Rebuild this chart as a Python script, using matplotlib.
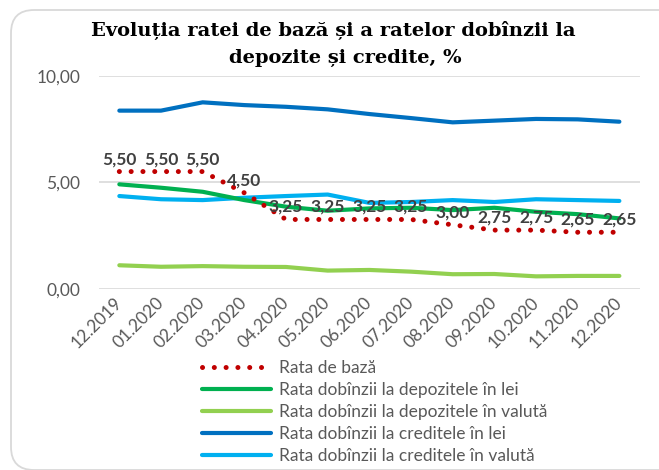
import matplotlib
matplotlib.use("Agg")
import matplotlib.pyplot as plt
import matplotlib.transforms as mtransforms
from matplotlib.patches import FancyBboxPatch
import numpy as np

categories = ["12.2019", "01.2020", "02.2020", "03.2020", "04.2020", "05.2020", "06.2020",
              "07.2020", "08.2020", "09.2020", "10.2020", "11.2020", "12.2020"]
rata_baza = [5.50, 5.50, 5.50, 4.50, 3.25, 3.25, 3.25, 3.25, 3.00, 2.75, 2.75, 2.65, 2.65]
dep_lei = [4.90, 4.74, 4.55, 4.16, 3.85, 3.66, 3.77, 3.80, 3.69, 3.80, 3.61, 3.50, 3.30]
dep_valuta = [1.10, 1.03, 1.06, 1.03, 1.02, 0.85, 0.88, 0.80, 0.68, 0.69, 0.58, 0.60, 0.60]
cred_lei = [8.36, 8.36, 8.75, 8.62, 8.54, 8.42, 8.20, 8.01, 7.81, 7.89, 7.97, 7.95, 7.84]
cred_valuta = [4.35, 4.20, 4.16, 4.27, 4.35, 4.42, 4.03, 4.07, 4.16, 4.07, 4.20, 4.16, 4.12]
y_ticks = [0, 5, 10]

series_names = ["Rata de bază",
                "Rata dobînzii la depozitele în lei",
                "Rata dobînzii la depozitele în valută",
                "Rata dobînzii la creditele în lei",
                "Rata dobînzii la creditele în valută"]

W, H = 659, 470
fig = plt.figure(figsize=(W / 100, H / 100), dpi=100)
FONT = "Lato"
GRAY = "#595959"

# rounded border
border = FancyBboxPatch((11 / W, 1 - 470 / H), 700 / W, (470 - 10) / H,
                        boxstyle="round,pad=0,rounding_size=0.035",
                        transform=fig.transFigure, facecolor="none",
                        edgecolor="#D9D9D9", linewidth=1.3, zorder=-1,
                        mutation_aspect=W / H)
fig.patches.append(border)

ax = fig.add_axes([98.5 / W, 1 - 288.7 / H, 541.7 / W, 213 / H])
ax.set_facecolor("none")
x = np.arange(len(categories))

ax.plot(x, cred_lei, color="#0070C0", lw=3, solid_capstyle="round", zorder=3)
ax.plot(x, cred_valuta, color="#00B0F0", lw=3, solid_capstyle="round", zorder=3)
ax.plot(x, dep_lei, color="#00B050", lw=3, solid_capstyle="round", zorder=3)
ax.plot(x, dep_valuta, color="#92D050", lw=3, solid_capstyle="round", zorder=3)
ax.plot(x, rata_baza, color="#C00000", lw=3.6, linestyle=(0, (0.01, 2.35)),
        dash_capstyle="round", zorder=4)

for xi, v in zip(x, rata_baza):
    ax.annotate(f"{v:.2f}".replace(".", ","), (xi, v), xytext=(0, 9),
                textcoords="offset points", ha="center", va="center",
                fontsize=12.5, fontweight="bold", color="#404040",
                family=FONT, zorder=5)

ax.set_xlim(-0.5, len(categories) - 0.5)
ax.set_ylim(0, 10)
ax.set_yticks(y_ticks)
ax.set_yticklabels([f"{t:.2f}".replace(".", ",") for t in y_ticks],
                   fontsize=12.5, color=GRAY, family=FONT)
ax.set_xticks(x)
ax.set_xticklabels(categories, rotation=45, ha="right", va="center",
                   rotation_mode="anchor", fontsize=12.5, color=GRAY, family=FONT)
shift = mtransforms.ScaledTranslation(3 / 100, 0, fig.dpi_scale_trans)
for lbl in ax.get_xticklabels():
    lbl.set_transform(lbl.get_transform() + shift)
ax.tick_params(axis="both", length=0)
ax.tick_params(axis="y", pad=13)
ax.tick_params(axis="x", pad=8)
ax.grid(axis="y", color="#D9D9D9", lw=1.2)
ax.set_axisbelow(True)
for s in ax.spines.values():
    s.set_visible(False)

# title
fig.text(333 / W, 1 - 30 / H, "Evoluția ratei de bază și a ratelor dobînzii la",
         ha="center", va="center", fontsize=14, fontweight="bold",
         family="DejaVu Serif", color="black")
fig.text(345 / W, 1 - 58 / H, "depozite și credite, %",
         ha="center", va="center", fontsize=14, fontweight="bold",
         family="DejaVu Serif", color="black")

handles = ax.get_lines()
order = [4, 2, 3, 0, 1]
leg = fig.legend([handles[i] for i in order], series_names,
                 loc="upper left", bbox_to_anchor=(201.7 / W, 1 - 360 / H),
                 frameon=False, borderpad=0, borderaxespad=0,
                 handlelength=4.0, handletextpad=0.45, labelspacing=0.35,
                 prop={"family": FONT, "size": 12.5})
for t in leg.get_texts():
    t.set_color(GRAY)

fig.savefig("out.png", dpi=100)
